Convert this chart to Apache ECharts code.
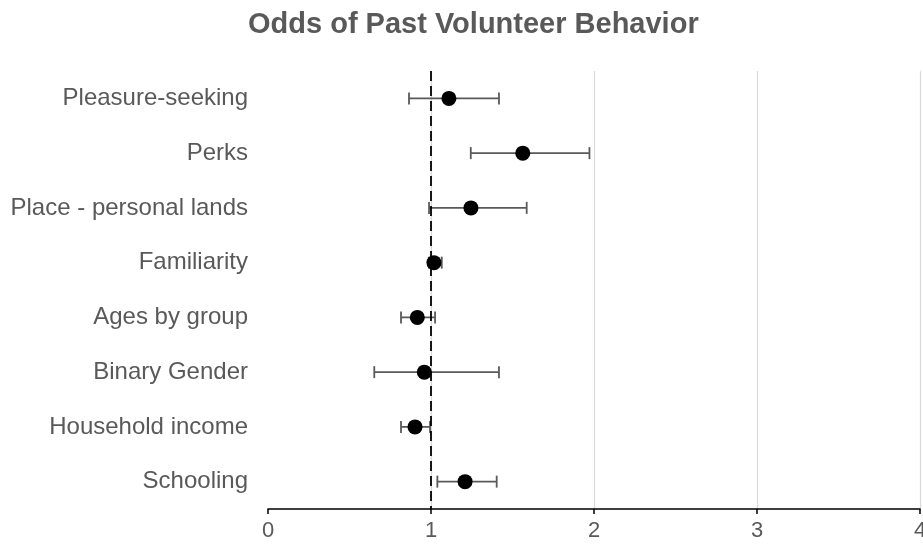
<!DOCTYPE html>
<html>
<head>
<meta charset="utf-8">
<script src="https://cdn.jsdelivr.net/npm/echarts@6/dist/echarts.min.js"></script>
<style>html,body{margin:0;padding:0;background:#fff}#c{width:923px;height:548px}</style>
</head>
<body>
<div id="c"></div>
<script>
const categories = ['Pleasure-seeking','Perks','Place - personal lands','Familiarity','Ages by group','Binary Gender','Household income','Schooling'];
const odds = [1.11, 1.563, 1.245, 1.018, 0.916, 0.959, 0.902, 1.209];
const lower = [0.865, 1.244, 0.988, 0.988, 0.816, 0.652, 0.816, 1.039];
const upper = [1.417, 1.972, 1.587, 1.066, 1.025, 1.417, 0.994, 1.403];
const xTicks = [0, 1, 2, 3, 4];
const refValue = 1;

const chart = echarts.init(document.getElementById('c'));
const errData = categories.map((c, i) => [lower[i], upper[i], i]);
chart.setOption({
  animation: false,
  title: {
    text: 'Odds of Past Volunteer Behavior',
    left: 243, top: 5,
    textStyle: {fontFamily: 'Liberation Sans', fontSize: 29, fontWeight: 'bold', color: '#595959'}
  },
  grid: {left: 268, right: 3, top: 71, bottom: 39, outerBoundsMode: 'none', containLabel: false},
  xAxis: {
    type: 'value', min: xTicks[0], max: xTicks[xTicks.length - 1], interval: 1,
    axisLine: {show: true, lineStyle: {color: '#000', width: 1.5}},
    axisTick: {show: true, length: 5, lineStyle: {color: '#000', width: 1.5}},
    axisLabel: {color: '#595959', fontFamily: 'Liberation Sans', fontSize: 22, margin: 11},
    splitLine: {show: true, lineStyle: {color: ['rgba(0,0,0,0)', '#d9d9d9', '#d9d9d9', '#d9d9d9', '#d9d9d9'], width: 1.2}}
  },
  yAxis: {
    type: 'category', data: categories, inverse: true,
    axisLine: {show: false}, axisTick: {show: false},
    axisLabel: {color: '#595959', fontFamily: 'Liberation Sans', fontSize: 24, margin: 20},
    splitLine: {show: false}
  },
  series: [
    {
      type: 'custom',
      data: errData,
      encode: {x: [0, 1], y: 2},
      renderItem: function (params, api) {
        const i = api.value(2);
        const p1 = api.coord([api.value(0), i]);
        const p2 = api.coord([api.value(1), i]);
        const h = 6;
        const st = {stroke: '#5a5a5a', lineWidth: 1.8};
        return {
          type: 'group',
          children: [
            {type: 'line', shape: {x1: p1[0], y1: p1[1], x2: p2[0], y2: p2[1]}, style: st},
            {type: 'line', shape: {x1: p1[0], y1: p1[1] - h, x2: p1[0], y2: p1[1] + h}, style: st},
            {type: 'line', shape: {x1: p2[0], y1: p2[1] - h, x2: p2[0], y2: p2[1] + h}, style: st}
          ]
        };
      },
      z: 3
    },
    {
      type: 'scatter',
      data: odds.map((v, i) => [v, i]),
      symbol: 'circle', symbolSize: 15,
      itemStyle: {color: '#000', opacity: 1},
      z: 4,
      markLine: {
        silent: true, symbol: 'none',
        label: {show: false},
        lineStyle: {color: '#000', type: [10, 5], width: 2, opacity: 0.9},
        data: [{xAxis: refValue}]
      }
    }
  ]
});
</script>
</body>
</html>
